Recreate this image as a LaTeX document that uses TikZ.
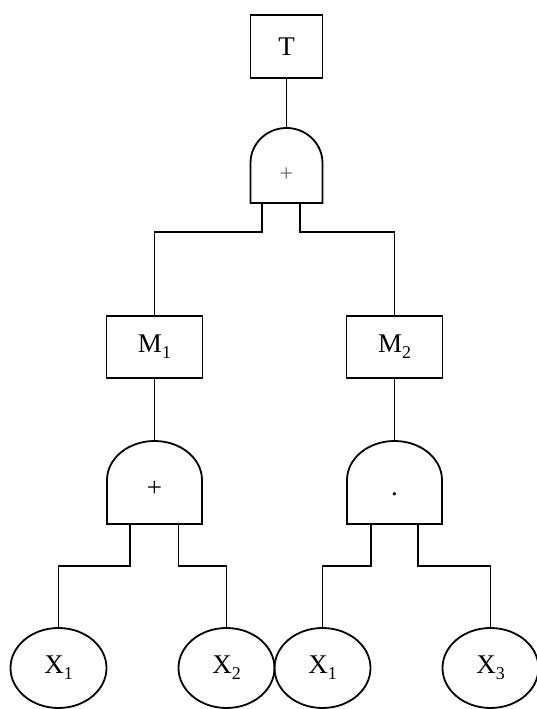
\documentclass[tikz,border=0pt]{standalone}
\usepackage{fontspec}
\setmainfont{Liberation Serif}
\usetikzlibrary{shapes.geometric}
\newcommand{\lsub}[1]{\raisebox{-6pt}{\fontsize{18}{18}\selectfont #1}}
\newcommand{\fgate}[8]{%
  \draw (#2-#4,#6) -- (#2-#4,#3-#5) arc[start angle=180,end angle=0,x radius=#4,y radius=#5] -- (#2+#4,#6) -- cycle;
  \coordinate (#1top) at (#2,#3);
  \node[gatelabel] (#1lab) at (#2,#7) {#8};
}
\begin{document}
\begin{tikzpicture}[x=1pt,y=1pt,line width=1.8pt,
  evbox/.style={draw,rectangle,minimum width=96pt,minimum height=62pt,inner sep=0pt,font=\fontsize{27}{30}\selectfont},
  topbox/.style={evbox,minimum width=72pt,minimum height=63pt},
  basic/.style={draw,ellipse,minimum width=96pt,minimum height=80pt,inner sep=0pt,font=\fontsize{27}{30}\selectfont},
  gatelabel/.style={inner sep=0pt,font=\fontsize{27}{30}\selectfont}]
\useasboundingbox (0,0) rectangle (537,709);
% top event
\node[topbox] (T) at (286.5,662.5) {T};
% top gate
\fgate{g0}{286.5}{581}{36}{35}{506}{534}{\textcolor{black!60}{\fontsize{24}{24}\selectfont +}}
\coordinate (g0l) at (262,506);
\coordinate (g0r) at (300,506);
% intermediate events
\node[evbox] (M1) at (154.5,362) {M\lsub{1}};
\node[evbox] (M2) at (394.5,362) {M\lsub{2}};
% lower gates
\fgate{g1}{154.5}{268}{47.5}{39}{185}{220}{+}
\fgate{g2}{394.5}{268}{47.5}{39}{185}{215}{.}
\coordinate (g1l) at (130,185);
\coordinate (g1r) at (178.5,185);
\coordinate (g2l) at (371,185);
\coordinate (g2r) at (418,185);
% basic events
\node[basic] (X1) at (58.5,41) {X\lsub{1}};
\node[basic] (X2) at (226.5,41) {X\lsub{2}};
\node[basic] (X1b) at (322.5,41) {X\lsub{1}};
\node[basic] (X3) at (490.5,41) {X\lsub{3}};
% connectors
\draw (T.south) -- (g0top);
\draw (g0l) -- ++(0,-29) -| (M1.north);
\draw (g0r) -- ++(0,-29) -| (M2.north);
\draw (M1.south) -- (g1top);
\draw (M2.south) -- (g2top);
\draw (g1l) -- ++(0,-41.7) -| (X1.north);
\draw (g1r) -- ++(0,-41.7) -| (X2.north);
\draw (g2l) -- ++(0,-41.7) -| (X1b.north);
\draw (g2r) -- ++(0,-41.7) -| (X3.north);
\end{tikzpicture}
\end{document}
